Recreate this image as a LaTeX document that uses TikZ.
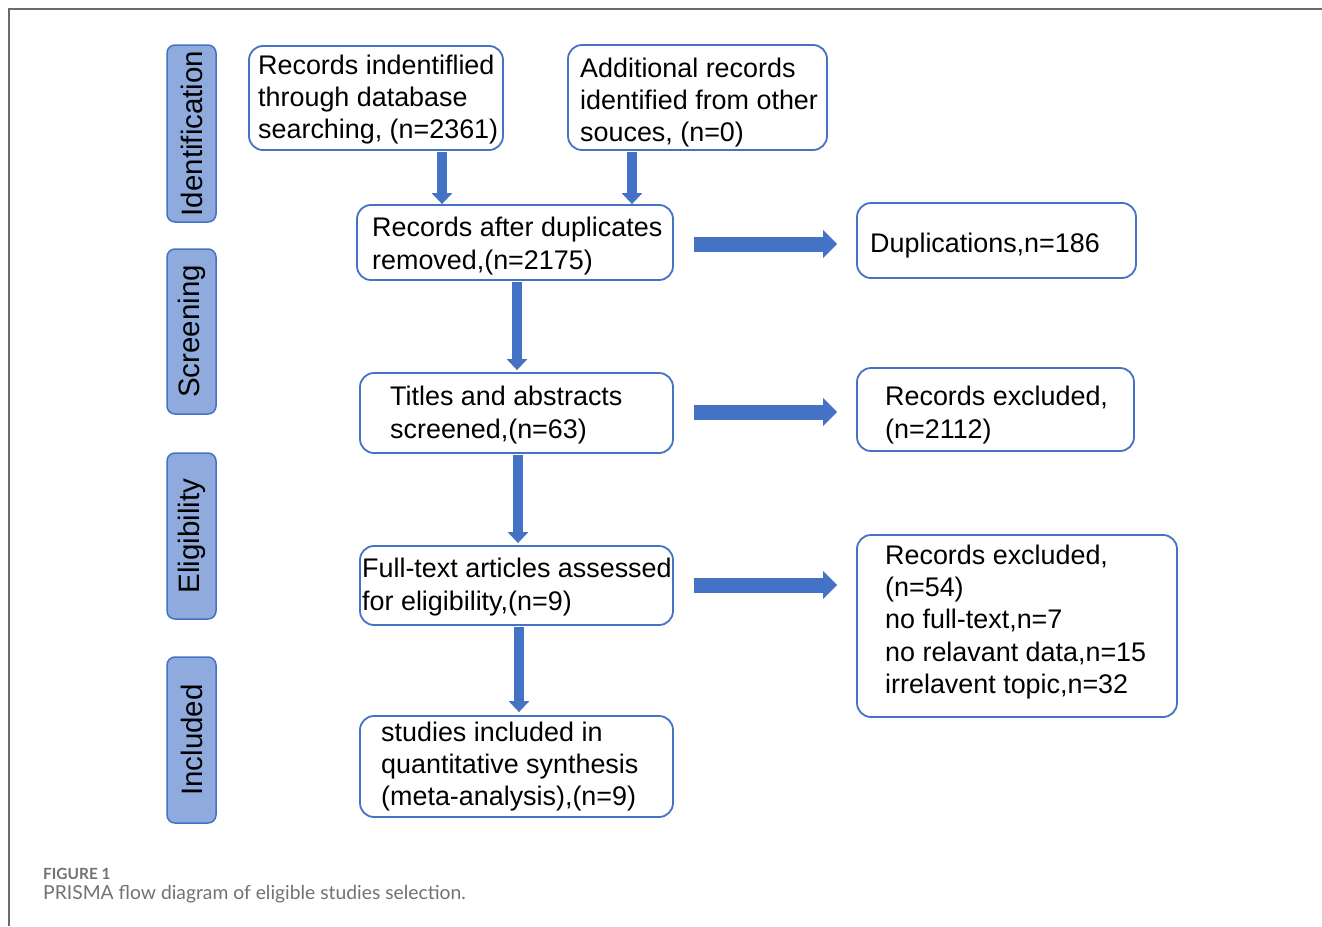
\documentclass[tikz,border=0pt]{standalone}
\usepackage{fontspec}
\setmainfont{Liberation Sans}
\newfontfamily\capfont{Lato}
\usetikzlibrary{arrows.meta}
\definecolor{bord}{HTML}{4472C4}
\definecolor{sidefill}{HTML}{8FAADC}
\definecolor{arrowc}{HTML}{4472C4}
\definecolor{framec}{HTML}{6B6B6B}
\definecolor{capc}{HTML}{727272}
\begin{document}
\begin{tikzpicture}[x=1pt,y=-1pt,
 box/.style={draw=bord, line width=1.8pt, rounded corners=14pt, inner sep=0pt},
 side/.style={draw=bord, fill=sidefill, line width=1.5pt, rounded corners=8pt, minimum width=49pt, inner sep=0pt},
 txt/.style={align=left, inner sep=0pt, font=\fontsize{26.9}{32.3}\selectfont, anchor=west},
 sidetxt/.style={font=\fontsize{29.5}{32}\selectfont},
 darr/.style={arrowc, line width=10pt, -{Triangle[length=11pt,width=20pt]}, shorten <=1pt},
 rarr/.style={arrowc, line width=15pt, -{Triangle[length=14pt,width=27pt]}, shorten <=20pt, shorten >=19pt}
]
\useasboundingbox (0,0) rectangle (1322,926);
\fill[white] (0,0) rectangle (1322,926);
% frame
\draw[framec, line width=1.5pt] (1322,9) -- (9,9) -- (9,926);

% side labels
\node[side, minimum height=177pt, sidetxt] (S1) at (191.5,133.5) {\rotatebox{90}{Identification}};
\node[side, minimum height=165pt, sidetxt] (S2) at (191.5,331.5) {\rotatebox{90}{Screening}};
\node[side, minimum height=166pt, sidetxt] (S3) at (191.5,536) {\rotatebox{90}{Eligibility}};
\node[side, minimum height=166pt, sidetxt] (S4) at (191.5,740) {\rotatebox{90}{Included}};

% boxes
\node[box, minimum width=254pt, minimum height=104pt] (A) at (376,98) {};
\node[box, minimum width=259pt, minimum height=105pt] (B) at (697.5,97.5) {};
\node[box, minimum width=316pt, minimum height=75pt] (C) at (515,242.5) {};
\node[box, minimum width=279pt, minimum height=75pt] (D) at (996.5,240.5) {};
\node[box, minimum width=313pt, minimum height=80pt] (E) at (516.5,413) {};
\node[box, minimum width=277pt, minimum height=83pt] (F) at (995.5,409.5) {};
\node[box, minimum width=313pt, minimum height=79pt] (G) at (516.5,585.5) {};
\node[box, minimum width=320pt, minimum height=182pt] (H) at (1017,626) {};
\node[box, minimum width=313pt, minimum height=101pt] (I) at (516.5,766.5) {};

% texts
\node[txt] (At) at (258,99.5) {Records indentiflied\\through database\\searching, (n=2361)};
\node[txt] (Bt) at (580,102.5) {Additional records\\identified from other\\souces, (n=0)};
\node[txt] (Ct) at (372,246) {Records after duplicates\\removed,(n=2175)};
\node[txt] (Dt) at (870,245.5) {Duplications,n=186};
\node[txt] (Et) at (390,415) {Titles and abstracts\\screened,(n=63)};
\node[txt] (Ft) at (885,415) {Records excluded,\\(n=2112)};
\node[txt] (Gt) at (362,587) {Full-text articles assessed\\for eligibility,(n=9)};
\node[txt] (Ht) at (885,622) {Records excluded,\\(n=54)\\no full-text,n=7\\no relavant data,n=15\\irrelavent topic,n=32};
\node[txt] (It) at (381,766.5) {studies included in\\quantitative synthesis\\(meta-analysis),(n=9)};

% arrows
\coordinate (xa) at (442,0);
\coordinate (xb) at (632,0);
\coordinate (xc) at (517,0);
\coordinate (xe) at (518,0);
\coordinate (xg) at (519,0);
\coordinate (r1) at (0,244);
\coordinate (r2) at (0,412);
\coordinate (r3) at (0,585);
\draw[darr] (A.south -| xa) -- (C.north -| xa);
\draw[darr] (B.south -| xb) -- (C.north -| xb);
\draw[darr, shorten >=2pt] (C.south -| xc) -- (E.north -| xc);
\draw[darr, shorten >=2pt] (E.south -| xe) -- (G.north -| xe);
\draw[darr, shorten >=3pt] (G.south -| xg) -- (I.north -| xg);
\draw[rarr] (C.east |- r1) -- (D.west |- r1);
\draw[rarr] (E.east |- r2) -- (F.west |- r2);
\draw[rarr] (G.east |- r3) -- (H.west |- r3);

% caption
\node[anchor=base west, inner sep=0pt, text=capc, font=\capfont\bfseries\fontsize{15.4}{18}\selectfont] (fig) at (43,879) {FIGURE 1};
\node[anchor=base west, inner sep=0pt, text=capc, font=\capfont\fontsize{19.3}{22}\selectfont] (cap) at (43,899) {PRISMA flow diagram of eligible studies selection.};
\end{tikzpicture}
\end{document}
